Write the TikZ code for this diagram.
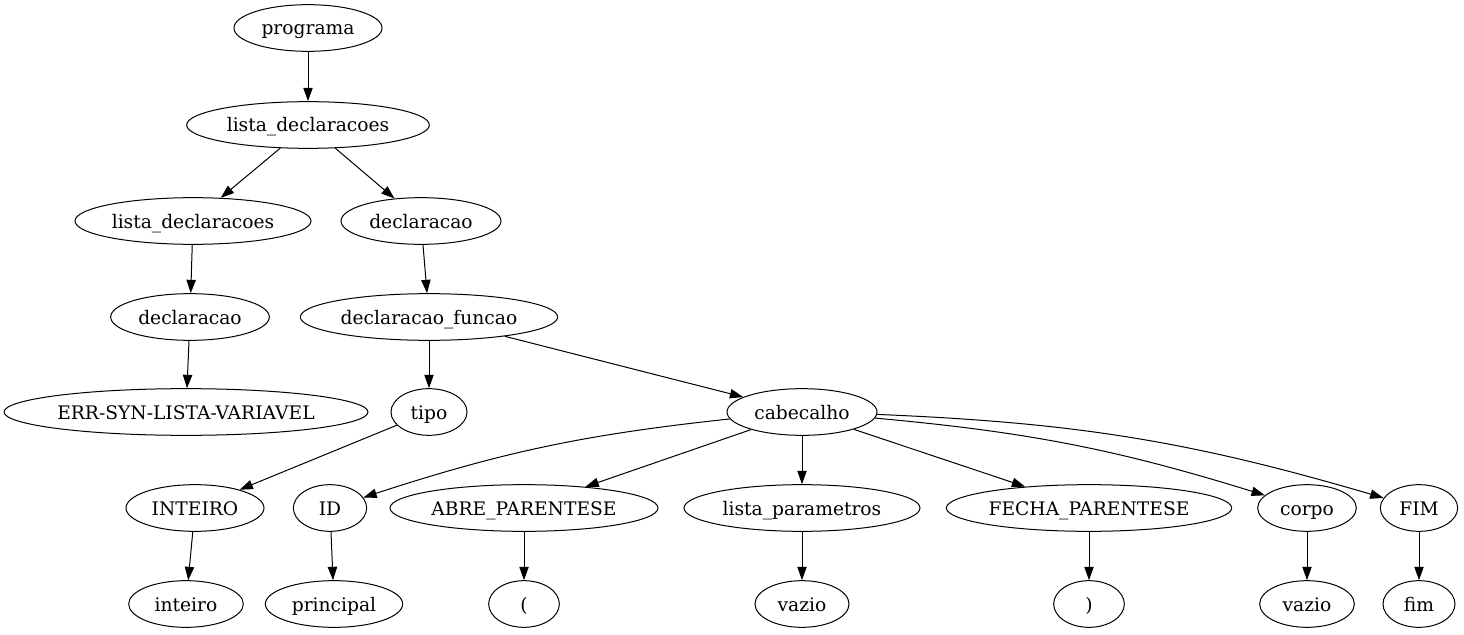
\documentclass[tikz,border=0pt]{standalone}
\usepackage{fontspec}
\setmainfont{DejaVu Serif}
\usetikzlibrary{shapes.geometric,arrows.meta}

\tikzset{
  nt/.style={ellipse, draw, line width=0.75pt, inner sep=0pt,
    minimum height=35pt, minimum width=#1,
    text height=12.5pt, text depth=2pt,
    font=\fontsize{14}{16}\selectfont},
  edge/.style={-{Triangle[length=10pt,width=7pt]}, line width=0.75pt},
}

\begin{document}
\begin{tikzpicture}[x=0.75pt,y=-0.75pt]
  \useasboundingbox (0,0) rectangle (1464,635);

  % nodes
  \node[nt=111pt]   (prog)   at (308,28)  {programa};
  \node[nt=182pt]   (lstA)   at (308,125) {lista\_declaracoes};
  \node[nt=177pt]   (lstB)   at (193,221) {lista\_declaracoes};
  \node[nt=120pt]   (declA)  at (421,221) {declaracao};
  \node[nt=119pt]   (declB)  at (190,317) {declaracao};
  \node[nt=193pt]   (dfunc)  at (429,317) {declaracao\_funcao};
  \node[nt=271pt]   (err)    at (186,412) {ERR-SYN-LISTA-VARIAVEL};
  \node[nt=57pt]    (tipo)   at (429,412) {tipo};
  \node[nt=112.5pt] (cab)    at (802,412) {cabecalho};
  \node[nt=103.5pt] (intT)   at (195,508) {INTEIRO};
  \node[nt=55pt]    (id)     at (330,508) {ID};
  \node[nt=201pt]   (abre)   at (524,508) {ABRE\_PARENTESE};
  \node[nt=177pt]   (lpar)   at (802,508) {lista\_parametros};
  \node[nt=214pt]   (fecha)  at (1089,508) {FECHA\_PARENTESE};
  \node[nt=74pt]    (corpo)  at (1307,508) {corpo};
  \node[nt=58pt]    (fimT)   at (1419,508) {FIM};
  \node[nt=86pt]    (intL)   at (186,604) {inteiro};
  \node[nt=103pt]   (princ)  at (334,604) {principal};
  \node[nt=53pt]    (lp)     at (524,604) {(};
  \node[nt=70.5pt]  (vazA)   at (802,604) {vazio};
  \node[nt=53pt]    (rp)     at (1089,604) {)};
  \node[nt=71pt]    (vazB)   at (1307,604) {vazio};
  \node[nt=54pt]    (fimL)   at (1419,604) {fim};

  % edges
  \draw[edge] (prog) -- (lstA);
  \draw[edge] (lstA) -- (lstB);
  \draw[edge] (lstA) -- (declA);
  \draw[edge] (lstB) -- (declB);
  \draw[edge] (declB) -- (err);
  \draw[edge] (declA) -- (dfunc);
  \draw[edge] (dfunc) -- (tipo);
  \draw[edge] (dfunc) -- (cab);
  \draw[edge] (tipo) -- (intT);
  \draw[edge] (intT) -- (intL);
  \draw[edge] (cab) to[bend right=6] (id);
  \draw[edge] (cab) -- (abre);
  \draw[edge] (cab) -- (lpar);
  \draw[edge] (cab) -- (fecha);
  \draw[edge] (cab) to[bend left=6] (corpo);
  \draw[edge] (cab) to[bend left=7] (fimT);
  \draw[edge] (id) -- (princ);
  \draw[edge] (abre) -- (lp);
  \draw[edge] (lpar) -- (vazA);
  \draw[edge] (fecha) -- (rp);
  \draw[edge] (corpo) -- (vazB);
  \draw[edge] (fimT) -- (fimL);
\end{tikzpicture}
\end{document}
